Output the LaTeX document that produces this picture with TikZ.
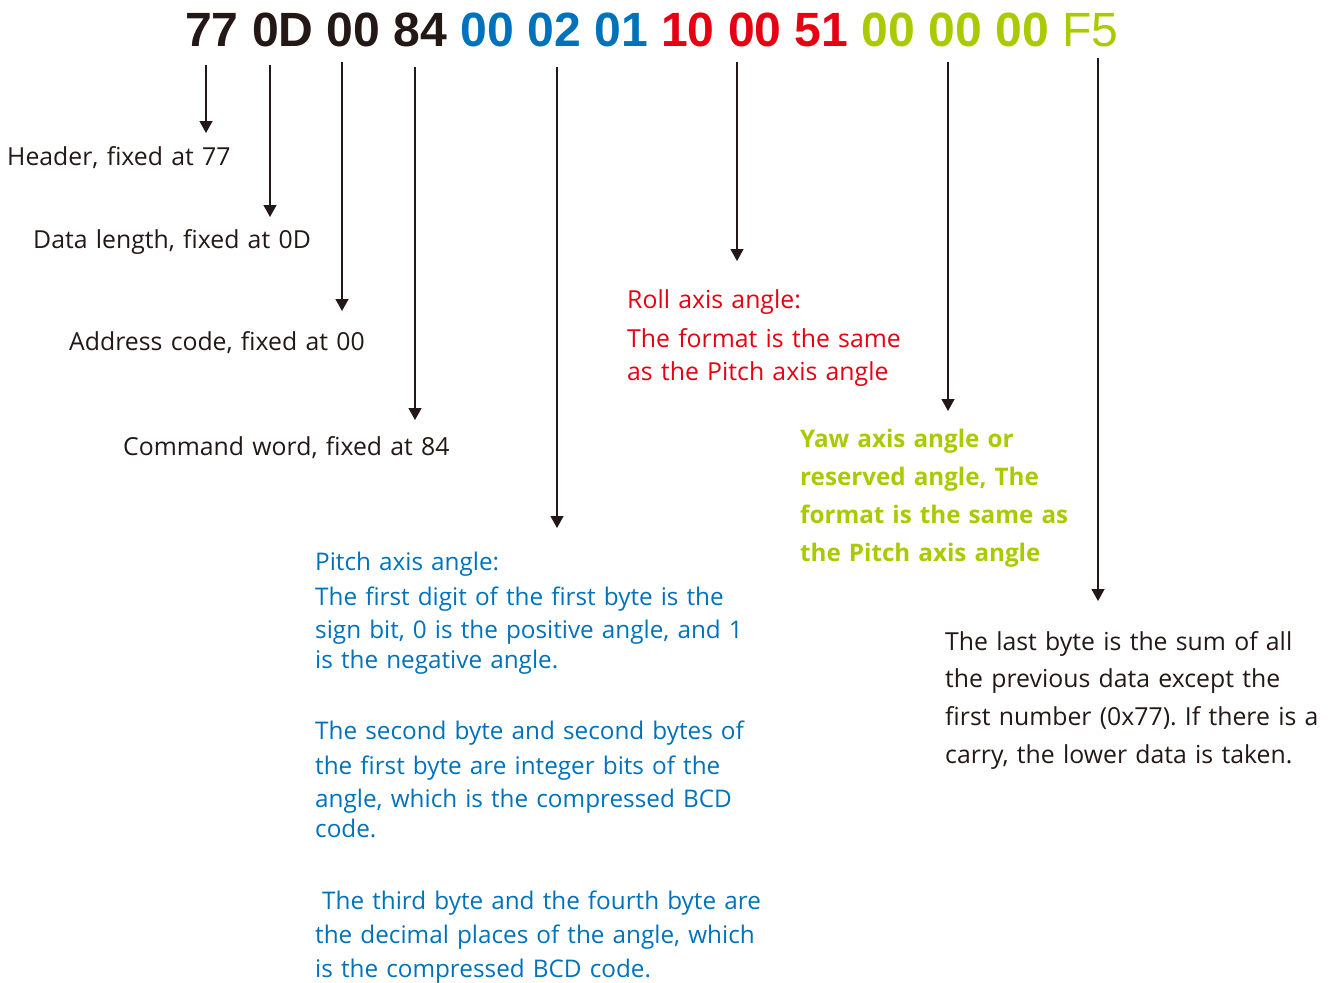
\documentclass[tikz,border=0pt]{standalone}
\usepackage{fontspec}
\setmainfont{Open Sans}
\setsansfont{Liberation Sans}
\usetikzlibrary{arrows.meta}
\definecolor{ink}{RGB}{35,24,21}
\definecolor{cblue}{RGB}{0,114,188}
\definecolor{cred}{RGB}{230,0,18}
\definecolor{cgreen}{RGB}{170,202,0}
\frenchspacing
\begin{document}
\begin{tikzpicture}[x=1pt,y=-1pt,
  lbl/.style={anchor=base west, inner sep=0pt, align=left, text width=#1},
  lbl/.default=500pt,
  hexline/.style={anchor=base west, inner sep=0pt, font=\sffamily\bfseries\fontsize{48.1}{48}\selectfont},
  ptr/.style={draw=ink, line width=1.3pt, -{Triangle[length=12pt,width=13pt]}}]
\useasboundingbox (0,0) rectangle (1332,982);

% header bytes
\node[hexline] (hex) at (185,47) {\color{ink}77 0D 00 84 \color{cblue}00 02 01 \color{cred}10 00 51 \color{cgreen}00 00 00 \mdseries F5};

% labels
\node[lbl, text=ink, font=\fontsize{24.8}{30}\selectfont] (hdr) at (7,165) {Header, fixed at 77};
\node[lbl, text=ink, font=\fontsize{24.8}{30}\selectfont] (len) at (33,248) {Data length, fixed at 0D};
\node[lbl, text=ink, font=\fontsize{24.8}{30}\selectfont] (adr) at (69,350) {Address code, fixed at 00};
\node[lbl, text=ink, font=\fontsize{24.8}{30}\selectfont] (cmd) at (123,455) {Command word, fixed at 84};

\node[lbl=320pt, text=cred, font=\fontsize{24.8}{33}\selectfont] (roll) at (627,308)
  {Roll axis angle:\\[6pt]The format is the same\\as the Pitch axis angle};

\node[lbl=320pt, text=cgreen, font=\bfseries\fontsize{24.2}{38}\selectfont] (yaw) at (800,447)
  {Yaw axis angle or\\reserved angle, The\\format is the same as\\the Pitch axis angle};

\node[lbl, text=cblue, font=\fontsize{24.3}{30}\selectfont] (pitch) at (315,570)
  {Pitch axis angle:\\[5pt]The first digit of the first byte is the\\[3pt]sign bit, 0 is the positive angle, and 1\\is the negative angle.\\[41pt]The second byte and second bytes of\\[5pt]the first byte are integer bits of the\\[3pt]angle, which is the compressed BCD\\code.\\[42pt]\hspace*{7pt}The third byte and the fourth byte are\\[4pt]the decimal places of the angle, which\\[4pt]is the compressed BCD code.};

\node[lbl=400pt, text=ink, font=\fontsize{24.8}{37.7}\selectfont] (sum) at (945,650)
  {The last byte is the sum of all\\the previous data except the\\first number (0x77). If there is a\\carry, the lower data is taken.};

% arrow anchors
\coordinate (s1) at (206,65);  \coordinate (e1) at (206,133);
\coordinate (s2) at (270,65);  \coordinate (e2) at (270,217);
\coordinate (s3) at (342,62);  \coordinate (e3) at (342,311);
\coordinate (s4) at (415,67);  \coordinate (e4) at (415,420);
\coordinate (s5) at (557,67);  \coordinate (e5) at (557,528);
\coordinate (s6) at (737,62);  \coordinate (e6) at (737,261);
\coordinate (s7) at (948,62);  \coordinate (e7) at (948,411);
\coordinate (s8) at (1098,58); \coordinate (e8) at (1098,601);
\foreach \i in {1,...,8} {\draw[ptr] (s\i) -- (e\i);}
\end{tikzpicture}
\end{document}
